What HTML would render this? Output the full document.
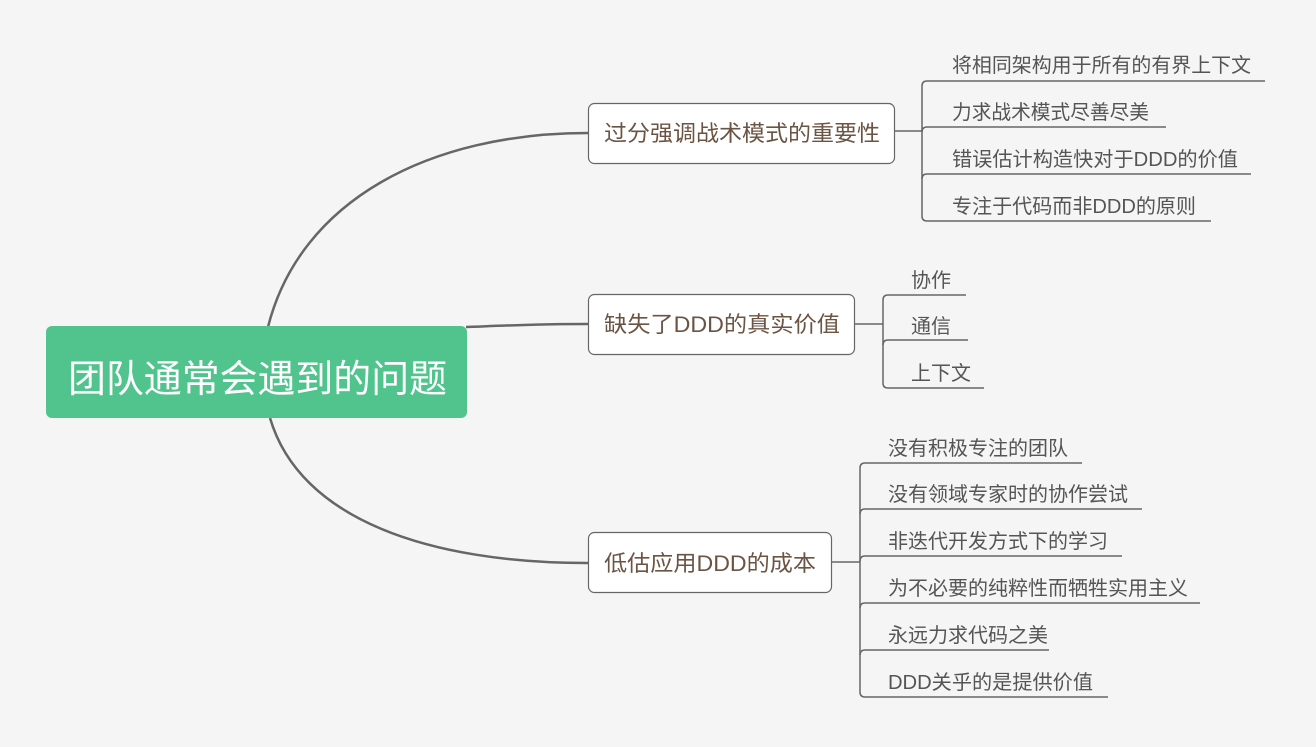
<!DOCTYPE html>
<html><head><meta charset="utf-8"><style>
html,body{margin:0;padding:0;background:#f5f5f5;}
svg{display:block;font-family:"Liberation Sans","Noto Sans CJK SC",sans-serif;}
.b{fill:#6b5443;font-size:22px;}
.s{fill:#555;font-size:20px;}
</style></head><body>
<svg width="1316" height="747" viewBox="0 0 1316 747">
<rect width="1316" height="747" fill="#f5f5f5"/>
<g fill="none" stroke="#666" stroke-width="2.5">
<path d="M268 327 C300 200 430 133 588 133"/>
<path d="M466 327 C520 325 540 324 588 324"/>
<path d="M270 418 C300 520 430 563 588 563"/>
</g>
<g fill="none" stroke="#666" stroke-width="1.5">
<path d="M895 131 H922"/>
<path d="M1265 81 H927 Q922 81 922 86 V216 Q922 221 927 221 H1211"/>
<path d="M922 132 Q922 127 927 127 H1166"/>
<path d="M922 179 Q922 174 927 174 H1251"/>
<path d="M854 324 H883"/>
<path d="M966 295 H888 Q883 295 883 300 V383 Q883 388 888 388 H984"/>
<path d="M883 345 Q883 340 888 340 H968"/>
<path d="M831 562 H860"/>
<path d="M1082 463 H865 Q860 463 860 468 V692 Q860 697 865 697 H1108"/>
<path d="M860 514 Q860 509 865 509 H1142"/>
<path d="M860 561 Q860 556 865 556 H1122"/>
<path d="M860 608 Q860 603 865 603 H1200"/>
<path d="M860 655 Q860 650 865 650 H1049"/>
</g>
<rect x="46" y="326" width="421" height="92" rx="6" fill="#51c48d"/>
<text x="68" y="392" fill="#fff" font-size="38" textLength="379" lengthAdjust="spacingAndGlyphs">团队通常会遇到的问题</text>
<g fill="#fff" stroke="#666" stroke-width="1.2">
<rect x="588.5" y="103.5" width="306" height="60" rx="6"/>
<rect x="588.5" y="294.5" width="266" height="60" rx="6"/>
<rect x="588.5" y="532.5" width="243" height="60" rx="6"/>
</g>
<text class="b" x="604" y="141" textLength="276" lengthAdjust="spacingAndGlyphs">过分强调战术模式的重要性</text>
<text class="b" x="604" y="332" textLength="236" lengthAdjust="spacingAndGlyphs">缺失了DDD的真实价值</text>
<text class="b" x="604" y="571" textLength="212" lengthAdjust="spacingAndGlyphs">低估应用DDD的成本</text>
<text class="s" x="952" y="72" textLength="299" lengthAdjust="spacingAndGlyphs">将相同架构用于所有的有界上下文</text>
<text class="s" x="952" y="119" textLength="197" lengthAdjust="spacingAndGlyphs">力求战术模式尽善尽美</text>
<text class="s" x="952" y="166" textLength="286" lengthAdjust="spacingAndGlyphs">错误估计构造快对于DDD的价值</text>
<text class="s" x="952" y="213" textLength="244" lengthAdjust="spacingAndGlyphs">专注于代码而非DDD的原则</text>
<text class="s" x="911" y="287" textLength="40" lengthAdjust="spacingAndGlyphs">协作</text>
<text class="s" x="911" y="333" textLength="40" lengthAdjust="spacingAndGlyphs">通信</text>
<text class="s" x="911" y="380" textLength="60" lengthAdjust="spacingAndGlyphs">上下文</text>
<text class="s" x="888" y="455" textLength="180" lengthAdjust="spacingAndGlyphs">没有积极专注的团队</text>
<text class="s" x="888" y="501" textLength="240" lengthAdjust="spacingAndGlyphs">没有领域专家时的协作尝试</text>
<text class="s" x="888" y="548" textLength="220" lengthAdjust="spacingAndGlyphs">非迭代开发方式下的学习</text>
<text class="s" x="888" y="595" textLength="300" lengthAdjust="spacingAndGlyphs">为不必要的纯粹性而牺牲实用主义</text>
<text class="s" x="888" y="642" textLength="160" lengthAdjust="spacingAndGlyphs">永远力求代码之美</text>
<text class="s" x="888" y="689" textLength="205" lengthAdjust="spacingAndGlyphs">DDD关乎的是提供价值</text>
</svg>
</body></html>
